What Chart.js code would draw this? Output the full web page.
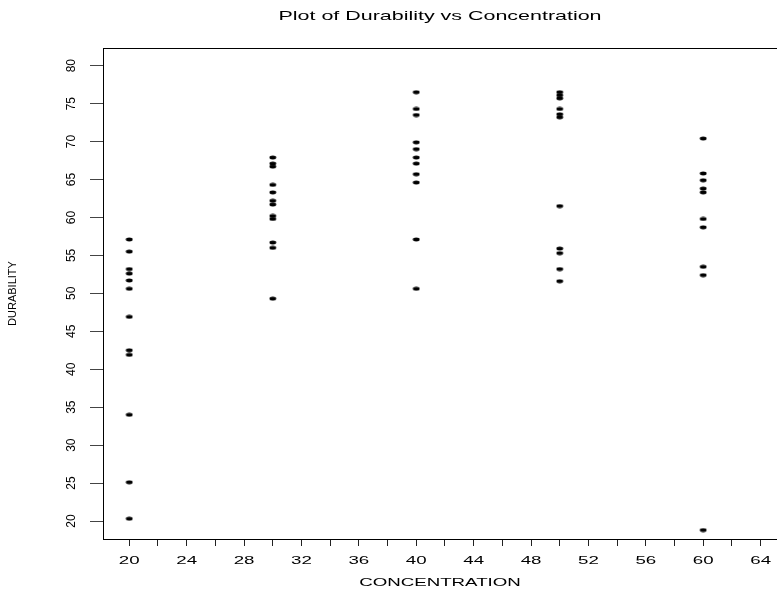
<!DOCTYPE html>
<html>
<head>
<meta charset="utf-8">
<title>Plot of Durability vs Concentration</title>
<style>
    html, body { margin: 0; padding: 0; background: #ffffff; }
    #durabilityChart { display: block; }
</style>
<script src="https://cdn.jsdelivr.net/npm/chart.js@4.4.1/dist/chart.umd.min.js"></script>
</head>
<body>
<canvas id="durabilityChart" width="777" height="594"></canvas>
<script>
// Concentration groups and the durability readings at each one
var concentrations = [20, 30, 40, 50, 60];
var durabilityAt20 = [57.1, 55.5, 53.2, 52.6, 51.7, 50.6, 46.9, 42.5, 41.9, 34.0, 25.1, 20.3];
var durabilityAt30 = [67.9, 67.1, 66.7, 64.3, 63.3, 62.2, 61.7, 60.2, 59.8, 56.7, 56.0, 49.3];
var durabilityAt40 = [76.5, 74.3, 73.5, 69.9, 69.0, 67.9, 67.1, 65.7, 64.6, 57.1, 50.6];
var durabilityAt50 = [76.5, 76.1, 75.7, 74.3, 73.6, 73.2, 61.5, 55.9, 55.3, 53.2, 51.6];
var durabilityAt60 = [70.4, 65.8, 64.9, 63.8, 63.3, 59.8, 58.7, 53.5, 52.4, 18.8];

// Tick labels
var xTickLabels = ['20', '24', '28', '32', '36', '40', '44', '48', '52', '56', '60', '64'];
var yTickLabels = ['20', '25', '30', '35', '40', '45', '50', '55', '60', '65', '70', '75', '80'];

var chartTitle = 'Plot of Durability vs Concentration';
var xAxisTitle = 'CONCENTRATION';
var yAxisTitle = 'DURABILITY';

var FONT = '"Liberation Sans", Arial, Helvetica, sans-serif';

document.addEventListener("DOMContentLoaded", function () {

    // Build the scatter points from the group arrays
    var groups = [durabilityAt20, durabilityAt30, durabilityAt40, durabilityAt50, durabilityAt60];
    var points = [];
    groups.forEach(function (values, i) {
        values.forEach(function (v) {
            points.push({ x: concentrations[i], y: v });
        });
    });

    // Small filled ellipse used as the marker (the plot is a bit wider than tall)
    var dot = document.createElement('canvas');
    dot.width = 8;
    dot.height = 5;
    var dctx = dot.getContext('2d');
    dctx.fillStyle = '#000';
    dctx.beginPath();
    dctx.ellipse(4, 2.5, 3.4, 1.9, 0, 0, Math.PI * 2);
    dctx.fill();

    // Text drawn widened horizontally, like the original device output
    function drawWide(ctx, text, x, y, size, stretch, baseline) {
        ctx.save();
        ctx.translate(x, y);
        ctx.scale(stretch, 1);
        ctx.font = size + 'px ' + FONT;
        ctx.textAlign = 'center';
        ctx.textBaseline = baseline || 'middle';
        ctx.fillText(text, 0, 0);
        ctx.restore();
    }

    var framePlugin = {
        id: 'frameAndLabels',
        afterDraw: function (chart) {
            var ctx = chart.ctx;
            var area = chart.chartArea;
            var xScale = chart.scales.x;
            var yScale = chart.scales.y;

            ctx.save();
            // box round the plot region
            ctx.strokeStyle = '#000';
            ctx.lineWidth = 1;
            ctx.strokeRect(Math.round(area.left) + 0.5, Math.round(area.top) + 0.5,
                Math.round(area.width), Math.round(area.height));

            ctx.fillStyle = '#000';
            // x tick labels
            xTickLabels.forEach(function (lab) {
                drawWide(ctx, lab, xScale.getPixelForValue(Number(lab)), area.bottom + 22, 11, 1.7);
            });
            // y tick labels, rotated
            ctx.font = '12px ' + FONT;
            ctx.textAlign = 'center';
            ctx.textBaseline = 'middle';
            yTickLabels.forEach(function (lab) {
                ctx.save();
                ctx.translate(area.left - 31, yScale.getPixelForValue(Number(lab)));
                ctx.rotate(-Math.PI / 2);
                ctx.fillText(lab, 0, 0);
                ctx.restore();
            });
            // titles
            drawWide(ctx, xAxisTitle, (area.left + area.right) / 2, area.bottom + 44, 11, 1.7);
            drawWide(ctx, chartTitle, (area.left + area.right) / 2, 20, 13, 1.65, 'alphabetic');
            ctx.restore();
        }
    };

    var ctxDurability = document.getElementById('durabilityChart').getContext('2d');
    new Chart(ctxDurability, {
        type: 'scatter',
        data: {
            datasets: [{
                label: 'Durability',
                data: points,
                pointStyle: dot,
                pointRadius: 3,
                backgroundColor: '#000',
                borderColor: '#000'
            }]
        },
        options: {
            responsive: false,
            animation: false,
            layout: {
                autoPadding: false,
                padding: { top: 48, left: 0, right: 0, bottom: 0 }
            },
            scales: {
                x: {
                    type: 'linear',
                    min: 18.17,
                    max: 65.14,
                    ticks: { stepSize: 2, includeBounds: false, display: false },
                    grid: { drawOnChartArea: false, drawTicks: true, tickLength: 7, color: '#222' },
                    border: { display: false },
                    afterFit: function (scale) { scale.height = 55; }
                },
                y: {
                    type: 'linear',
                    min: 17.63,
                    max: 82.33,
                    ticks: { stepSize: 5, includeBounds: false, display: false },
                    grid: { drawOnChartArea: false, drawTicks: true, tickLength: 13, color: '#444' },
                    border: { display: false },
                    title: {
                        display: true,
                        text: yAxisTitle,
                        color: '#000',
                        font: { family: FONT, size: 11 },
                        padding: { top: 6, bottom: 0 }
                    },
                    afterFit: function (scale) { scale.width = 103; }
                }
            },
            plugins: {
                legend: { display: false },
                tooltip: { enabled: false }
            }
        },
        plugins: [framePlugin]
    });
});
</script>
</body>
</html>
